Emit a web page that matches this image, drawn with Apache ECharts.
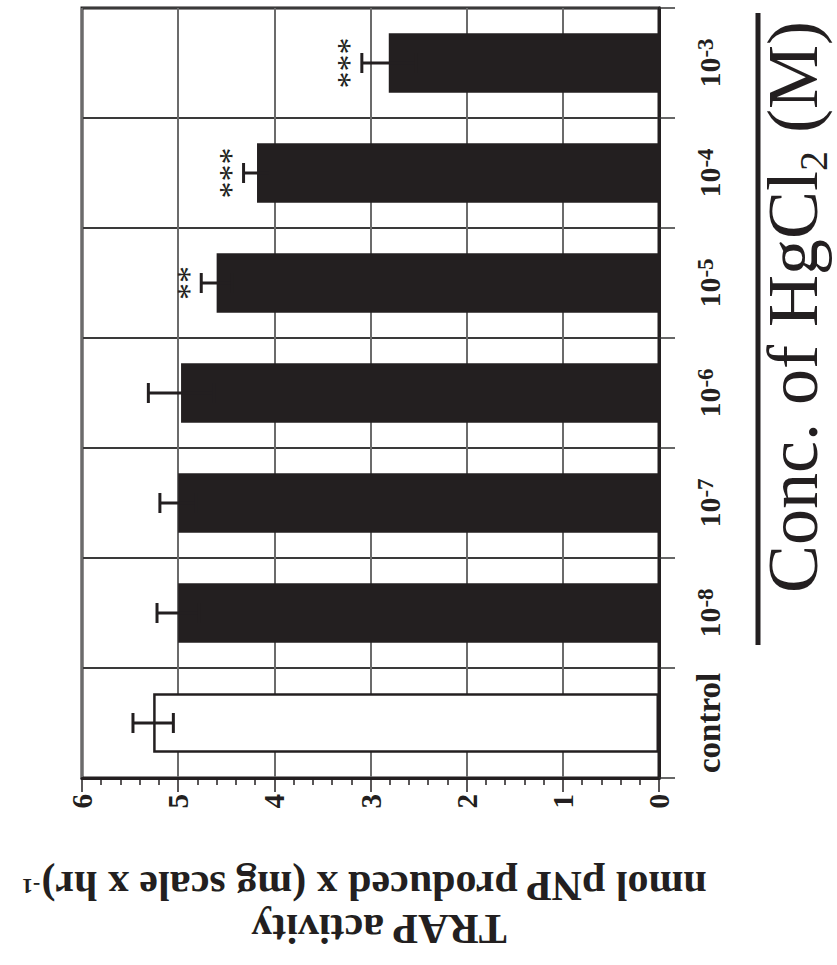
<!DOCTYPE html>
<html>
<head>
<meta charset="utf-8">
<script src="https://cdn.jsdelivr.net/npm/echarts@6/dist/echarts.min.js"></script>
<style>
  html, body { margin: 0; padding: 0; background: #ffffff; }
  #chart { width: 837px; height: 965px; }
</style>
</head>
<body>
<div id="chart"></div>
<script>
// TRAP activity after HgCl2 exposure (mean ± SEM), significance marks vs control
const categories = ['control', '10-8', '10-7', '10-6', '10-5', '10-4', '10-3'];
const activity = [5.26, 5.00, 5.00, 4.97, 4.60, 4.18, 2.81];
const sem = [0.21, 0.22, 0.19, 0.34, 0.16, 0.14, 0.28];
const significance = ['', '', '', '', '**', '***', '***'];
const valueMin = 0;
const valueMax = 6;
const valueStep = 1;

const INK = '#231f20';
const SERIF = '"Liberation Serif", "Times New Roman", serif';

const chart = echarts.init(document.getElementById('chart'), null, { renderer: 'svg' });

const barData = activity.map((v, i) => i === 0
  ? { value: v, itemStyle: { color: '#ffffff', borderColor: INK, borderWidth: 2.5 } }
  : { value: v });

const errorData = activity.map((v, i) => [i, v, sem[i]]);

function renderError(params, api) {
  const idx = api.value(0);
  const mean = api.value(1);
  const err = api.value(2);
  const hi = api.coord([mean + err, idx]);
  const lo = api.coord([mean - err, idx]);
  const half = 10;
  const st = { stroke: INK, lineWidth: 3 };
  const children = [
    { type: 'line', shape: { x1: lo[0], y1: lo[1], x2: hi[0], y2: hi[1] }, style: st },
    { type: 'line', shape: { x1: hi[0], y1: hi[1] - half, x2: hi[0], y2: hi[1] + half }, style: st },
    { type: 'line', shape: { x1: lo[0], y1: lo[1] - half, x2: lo[0], y2: lo[1] + half }, style: st }
  ];
  const mark = significance[params.dataIndex];
  if (mark) {
    children.push({
      type: 'text',
      x: hi[0] - 13,
      y: hi[1],
      rotation: Math.PI / 2,
      style: {
        text: mark,
        font: '34px ' + SERIF,
        fill: INK,
        align: 'center',
        verticalAlign: 'middle'
      }
    });
  }
  return { type: 'group', children };
}

chart.setOption({
  animation: false,
  backgroundColor: '#ffffff',
  grid: {
    left: 82, right: 178, top: 8, bottom: 187,
    show: true, borderColor: INK, borderWidth: 3, backgroundColor: '#ffffff'
  },
  xAxis: {
    type: 'value',
    min: valueMin, max: valueMax, interval: valueStep,
    inverse: true,
    position: 'bottom',
    axisLine: { show: true, lineStyle: { color: INK, width: 3 } },
    axisTick: { show: true, length: 14, lineStyle: { color: INK, width: 1.5 } },
    minorTick: { show: true, splitNumber: 5, length: 7, lineStyle: { color: INK, width: 1.5 } },
    splitLine: { show: true, lineStyle: { color: '#6b6b6b', width: 2 } },
    axisLabel: {
      rotate: 90, margin: 16,
      fontFamily: SERIF, fontWeight: 'bold', fontSize: 29, color: INK
    }
  },
  yAxis: {
    type: 'category',
    data: categories,
    position: 'right',
    axisLine: { show: true, lineStyle: { color: INK, width: 3 } },
    axisTick: { show: true, length: 16, lineStyle: { color: '#333333', width: 1.5 } },
    splitLine: { show: true, interval: 0, lineStyle: { color: '#3a3a3a', width: 2 } },
    axisLabel: {
      rotate: 90, margin: 35, interval: 0,
      color: INK,
      formatter: (v) => {
        const m = v.match(/^10(-\d+)$/);
        return m ? '{n|10}{s|' + m[1] + '}' : '{c|' + v + '}';
      },
      rich: {
        n: { fontFamily: SERIF, fontWeight: 'bold', fontSize: 30, lineHeight: 30, color: INK },
        s: { fontFamily: SERIF, fontWeight: 'bold', fontSize: 23, lineHeight: 13, verticalAlign: 'top', color: INK },
        c: { fontFamily: SERIF, fontWeight: 'bold', fontSize: 33, lineHeight: 30, color: INK }
      }
    }
  },
  graphic: [
    {
      type: 'line',
      shape: { x1: 758, y1: 13, x2: 758, y2: 645 },
      style: { stroke: INK, lineWidth: 5 }
    },
    {
      type: 'text',
      x: 793, y: 307,
      rotation: Math.PI / 2,
      style: {
        text: 'Conc. of HgCl{sub|2} (M)',
        font: '72px ' + SERIF,
        lineHeight: 80,
        fill: INK,
        align: 'center',
        verticalAlign: 'middle',
        rich: {
          sub: { fontFamily: SERIF, fontSize: 40, verticalAlign: 'bottom', fill: INK }
        }
      }
    },
    {
      type: 'text',
      x: 379, y: 929,
      rotation: Math.PI,
      style: {
        text: 'TRAP activity',
        font: 'bold 42px ' + SERIF,
        fill: INK,
        align: 'center',
        verticalAlign: 'middle'
      }
    },
    {
      type: 'text',
      x: 365, y: 886,
      rotation: Math.PI,
      style: {
        text: 'nmol pNP produced x (mg scale x hr){sup|-1}',
        font: 'bold 42px ' + SERIF,
        lineHeight: 42,
        fill: INK,
        align: 'center',
        verticalAlign: 'middle',
        rich: {
          sup: { fontFamily: SERIF, fontWeight: 'bold', fontSize: 22, lineHeight: 42, verticalAlign: 'middle', fill: INK }
        }
      }
    }
  ],
  series: [
    {
      type: 'bar',
      data: barData,
      barWidth: '54%',
      itemStyle: { color: INK },
      z: 2
    },
    {
      type: 'custom',
      data: errorData,
      encode: { x: 1, y: 0 },
      renderItem: renderError,
      z: 3
    }
  ]
});
</script>
</body>
</html>
